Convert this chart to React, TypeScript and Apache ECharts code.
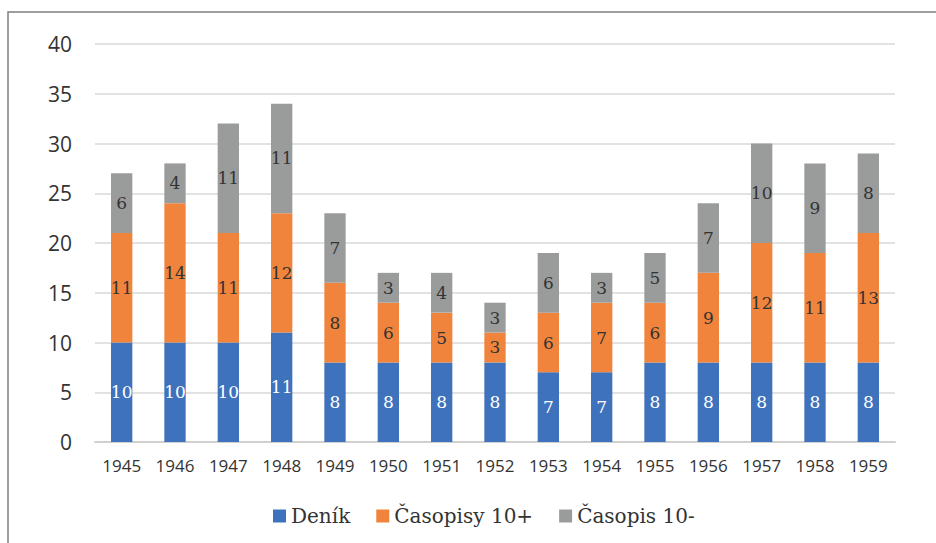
import React, { useEffect, useRef } from "react";
import * as echarts from "echarts";

const years = ["1945","1946","1947","1948","1949","1950","1951","1952","1953","1954","1955","1956","1957","1958","1959"];
const denik = [10,10,10,11,8,8,8,8,7,7,8,8,8,8,8];
const casopisyPlus = [11,14,11,12,8,6,5,3,6,7,6,9,12,11,13];
const casopisMinus = [6,4,11,11,7,3,4,3,6,3,5,7,10,9,8];
const seriesNames = ["Deník", "Časopisy 10+", "Časopis 10-"];
const colors = ["#3f72bc", "#f0843c", "#9a9c9c"];

export default function App() {
  const ref = useRef<HTMLDivElement>(null);
  useEffect(() => {
    document.body.style.margin = "0";
    const chart = echarts.init(ref.current!, null, { renderer: "svg" });
    const serif = "'DejaVu Serif', serif";
    const sans = "'Open Sans', 'Noto Sans', sans-serif";
    const mk = (name: string, data: number[], color: string, labelColor: string) => ({
      name,
      type: "bar",
      stack: "total",
      data,
      barWidth: "40%",
      itemStyle: { color },
      label: {
        show: true,
        position: "inside",
        color: labelColor,
        fontFamily: serif,
        fontSize: 17,
      },
    });
    chart.setOption({
      animation: false,
      color: colors,
      graphic: [
        {
          type: "rect",
          shape: { x: 8, y: 12, width: 1000, height: 600 },
          style: { fill: "none", stroke: "#7f7f7f", lineWidth: 1.5 },
          silent: true,
        },
      ],
      grid: { left: 95, right: 41, top: 44, bottom: 101 },
      legend: {
        bottom: 12,
        left: 268,
        itemWidth: 13,
        itemHeight: 13,
        itemGap: 26,
        icon: "rect",
        textStyle: { fontFamily: serif, fontSize: 20, color: "#333" },
        data: seriesNames,
      },
      xAxis: {
        type: "category",
        data: years,
        axisTick: { show: false },
        axisLine: { lineStyle: { color: "#d0d0d0", width: 2 } },
        axisLabel: { color: "#333", fontFamily: sans, fontSize: 17, margin: 15 },
      },
      yAxis: {
        type: "value",
        min: 0,
        max: 40,
        interval: 5,
        axisLine: { show: false },
        axisTick: { show: false },
        splitLine: { lineStyle: { color: "#d9d9d9", width: 1.5 } },
        axisLabel: { color: "#333", fontFamily: sans, fontSize: 21, margin: 23 },
      },
      series: [
        mk(seriesNames[0], denik, colors[0], "#ffffff"),
        mk(seriesNames[1], casopisyPlus, colors[1], "#333333"),
        mk(seriesNames[2], casopisMinus, colors[2], "#333333"),
      ],
    });
    return () => chart.dispose();
  }, []);
  return <div ref={ref} style={{ width: 936, height: 543 }} />;
}
